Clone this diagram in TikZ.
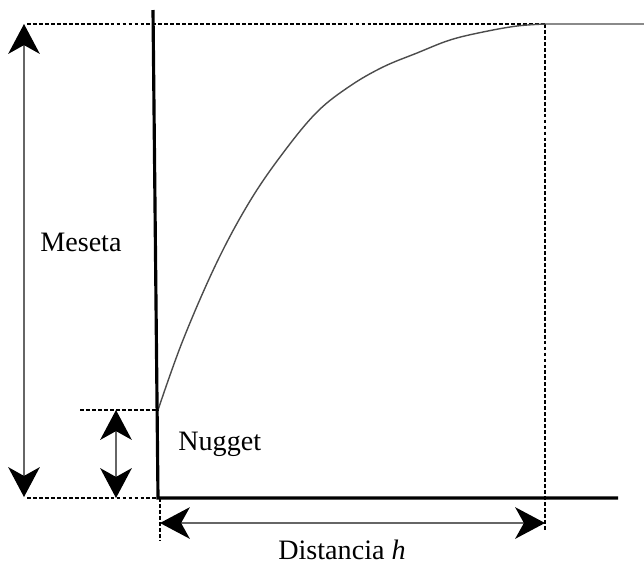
\documentclass[tikz,border=0pt]{standalone}
\usepackage{fontspec}
\setmainfont{Liberation Serif}
\usetikzlibrary{arrows.meta}
\begin{document}
\begin{tikzpicture}[x=0.02cm,y=-0.02cm,
  axis/.style={line width=1.8pt,black},
  guide/.style={line width=1pt,black,dash pattern=on 2.2pt off 1.2pt},
  dimarrow/.style={line width=0.8pt,gray!80!black,{Stealth[length=17pt,width=18pt,inset=5pt,black]}-{Stealth[length=17pt,width=18pt,inset=5pt,black]}},
  curve/.style={line width=0.8pt,gray!60!black},
  lbl/.style={font=\fontsize{16}{19}\selectfont,inner sep=0pt}]
\useasboundingbox (0,0) rectangle (644,566);
% named points
\coordinate (axtop) at (153,10);
\coordinate (origin) at (158,498);
\coordinate (axend) at (618,498);
\coordinate (sill) at (545,24);
\coordinate (sillleft) at (27,24);
\coordinate (nug) at (158,410);
\coordinate (nugleft) at (80,410);
\coordinate (baseleft) at (27,498);
\coordinate (rangebot) at (545,531);
\coordinate (origbot) at (160,541);
\coordinate (mtop) at (24,24);
\coordinate (mbot) at (24,497);
\coordinate (ntop) at (116,410);
\coordinate (nbot) at (116,498);
\coordinate (dleft) at (160,523);
\coordinate (dright) at (545,523);
\coordinate (flatend) at (644,24);
% guides
\draw[guide] (sillleft) -- (sill);
\draw[guide] (sill) -- (rangebot);
\draw[guide] (nugleft) -- (nug);
\draw[guide] (baseleft) -- (origin);
\draw[guide] (160,498) -- (origbot);
% curve
\draw[curve] plot[smooth,tension=0.6] coordinates {(158,410) (183,340) (217,262) (250,201) (283,153) (317,112) (350,86) (383,67) (417,53) (450,40) (483,32) (517,26) (545,24)} -- (flatend);
% axes
\draw[axis] (axtop) -- (origin) -- (axend);
% dimension arrows
\draw[dimarrow] (mtop) -- (mbot);
\draw[dimarrow] (ntop) -- (nbot);
\draw[dimarrow] (dleft) -- (dright);
% labels
\node[lbl,anchor=west] (meseta) at (40,242) {Meseta};
\node[lbl,anchor=west] (nugget) at (178,444) {Nugget};
\node[lbl] (dist) at (342,550) {Distancia \textit{h}};
\end{tikzpicture}
\end{document}
